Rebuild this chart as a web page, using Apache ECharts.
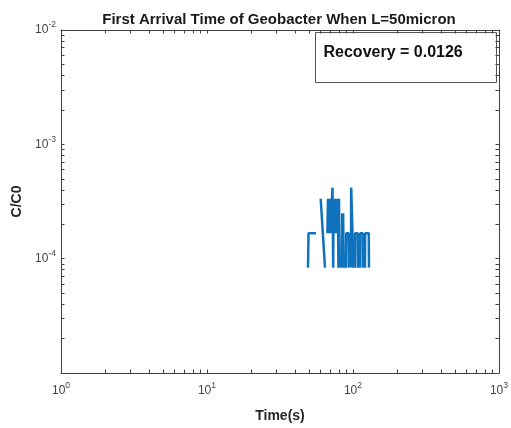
<!DOCTYPE html>
<html>
<head>
<meta charset="utf-8">
<script src="https://cdn.jsdelivr.net/npm/echarts@6/dist/echarts.min.js"></script>
<style>
html,body{margin:0;padding:0;background:#fff;}
#chart{width:511px;height:428px;}
</style>
</head>
<body>
<div id="chart"></div>
<script>
// ---- data ----
const titleText = 'First Arrival Time of Geobacter When L=50micron';
const xAxisName = 'Time(s)';
const yAxisName = 'C/C0';
const recoveryText = 'Recovery = 0.0126';
const xRange = [1, 1000];
const yRange = [1e-5, 1e-2];
const xTickLabels = [1, 10, 100, 1000];
const yTickLabels = [1e-4, 1e-3, 1e-2];
// time (s); null concentration = zero (not drawn on log axis)
const timeS = [
  49.2, 49.6, 55.8, 58.0,
  60.1, 64.3, 65.5,
  66.8, 67.4, 68.0, 68.5, 69.0, 69.6, 70.2, 70.7, 71.2, 71.8, 72.4, 72.9, 73.2, 73.6,
  74.1, 74.7, 75.3, 75.9, 76.5, 77.1, 77.7, 78.3, 78.9, 79.5, 80.2, 81.0, 82.5,
  84.1, 84.4, 85.2, 85.6, 86.4, 87.5,
  89.6, 89.9, 93.5, 93.9, 95.5,
  96.9, 97.2, 98.4, 99.2, 100.0, 100.5, 102.0,
  103.2, 103.5, 107.8, 108.2, 110.0,
  111.7, 112.0, 116.7, 117.1, 119.0,
  120.8, 121.2, 128.3, 128.7
];
const cOverC0 = [
  8.35e-5, 1.67e-4, 1.67e-4, null,
  3.34e-4, 8.35e-5, null,
  1.67e-4, 3.34e-4, 1.67e-4, 3.34e-4, 2.5e-4, 3.34e-4, 1.67e-4, 3.34e-4, 2.5e-4, 3.34e-4, 4.18e-4, 4.18e-4, 8.35e-5, 3.34e-4,
  1.67e-4, 3.34e-4, 2.5e-4, 3.34e-4, 1.67e-4, 3.34e-4, 2.5e-4, 1.67e-4, 2.5e-4, 8.35e-5, 3.34e-4, 8.35e-5, null,
  8.35e-5, 2.5e-4, 8.35e-5, 2.5e-4, 8.35e-5, null,
  8.35e-5, 1.67e-4, 1.67e-4, 8.35e-5, null,
  8.35e-5, 4.18e-4, 2.5e-4, 1.67e-4, 1.67e-4, 8.35e-5, null,
  8.35e-5, 1.67e-4, 1.67e-4, 8.35e-5, null,
  8.35e-5, 1.67e-4, 1.67e-4, 8.35e-5, null,
  8.35e-5, 1.67e-4, 1.67e-4, 8.35e-5
];

// ---- build ----
function decadeTicks(lo, hi) {
  const out = [];
  for (let e = Math.round(Math.log10(lo)); e < Math.round(Math.log10(hi)); e++) {
    for (let m = 1; m < 10; m++) out.push(+(m * Math.pow(10, e)).toPrecision(3));
  }
  out.push(hi);
  return out;
}
const xTicks = decadeTicks(xRange[0], xRange[1]);
const yTicks = decadeTicks(yRange[0], yRange[1]);
const seriesData = timeS.map((t, i) => [t, cOverC0[i] == null ? '-' : cOverC0[i]]);

const FONT = '"Liberation Sans", Arial, Helvetica, sans-serif';
const AX = '#404040';
const TXT = '#262626';
function powLabel(v) {
  const e = Math.round(Math.log10(v));
  return '{b|10}{s|' + e + '}';
}
const richLab = {
  b: { fontSize: 12, color: '#444', fontFamily: FONT },
  s: { fontSize: 8.5, color: '#444', fontFamily: FONT, padding: [0, 0, 10, 0] }
};
function axisCommon(range, ticks) {
  return {
    type: 'log', logBase: 10, min: range[0], max: range[1],
    axisLine: { show: true, lineStyle: { color: AX, width: 1 } },
    axisTick: { show: true, inside: true, length: 3.5, customValues: ticks, lineStyle: { color: AX, width: 1 } },
    splitLine: { show: false },
    minorTick: { show: false }
  };
}

const chart = echarts.init(document.getElementById('chart'), null, { renderer: 'canvas' });
chart.setOption({
  animation: false,
  backgroundColor: '#fff',
  title: {
    text: titleText, left: 274, top: 7, textAlign: 'center',
    textStyle: { fontFamily: FONT, fontSize: 15, fontWeight: 'bold', color: '#1a1a1a' }
  },
  grid: { left: 61, right: 12, top: 30, bottom: 54, containLabel: false },
  xAxis: [
    Object.assign(axisCommon(xRange, xTicks), {
      position: 'bottom',
      name: xAxisName, nameLocation: 'middle', nameGap: 36,
      nameTextStyle: { fontFamily: FONT, fontSize: 14, fontWeight: 'bold', color: TXT },
      axisLabel: { show: true, customValues: xTickLabels, formatter: powLabel, rich: richLab, margin: 8 }
    }),
    Object.assign(axisCommon(xRange, xTicks), {
      position: 'top', axisLabel: { show: false }
    })
  ],
  yAxis: [
    Object.assign(axisCommon(yRange, yTicks), {
      position: 'left',
      name: yAxisName, nameLocation: 'middle', nameGap: 36, nameRotate: 90,
      nameTextStyle: { fontFamily: FONT, fontSize: 14, fontWeight: 'bold', color: TXT },
      axisLabel: { show: true, customValues: yTickLabels, formatter: powLabel, rich: richLab, margin: 5 }
    }),
    Object.assign(axisCommon(yRange, yTicks), {
      position: 'right', axisLabel: { show: false }
    })
  ],
  series: [{
    type: 'line',
    xAxisIndex: 0, yAxisIndex: 0,
    data: seriesData,
    showSymbol: false,
    connectNulls: false,
    lineStyle: { color: '#0f72bd', width: 2.5 },
    itemStyle: { color: '#0f72bd' }
  }],
  graphic: [{
    type: 'group', left: 315, top: 32,
    children: [
      { type: 'rect', shape: { x: 0, y: 0, width: 181, height: 50 },
        style: { fill: '#fff', stroke: '#555', lineWidth: 1 } },
      { type: 'text', x: 8, y: 20,
        style: { text: recoveryText, fontFamily: FONT, fontSize: 16, fontWeight: 'bold',
                 fill: '#111', verticalAlign: 'middle', align: 'left' } }
    ]
  }]
});
</script>
</body>
</html>
